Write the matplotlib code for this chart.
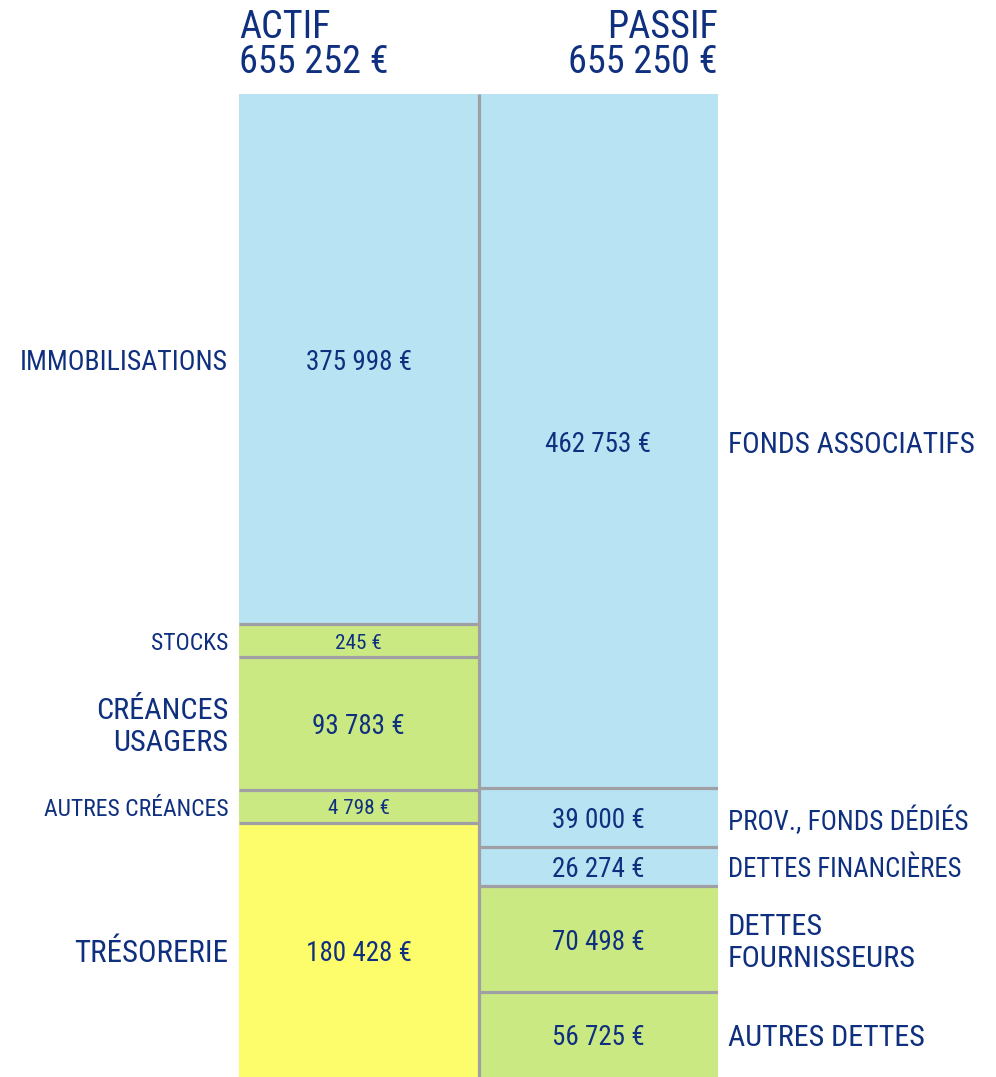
import matplotlib
matplotlib.use("Agg")
import matplotlib.pyplot as plt
from matplotlib.transforms import offset_copy

# ---- data ----
actif_labels = ["IMMOBILISATIONS", "STOCKS", "CRÉANCES\nUSAGERS", "AUTRES CRÉANCES", "TRÉSORERIE"]
actif_values = [375998, 245, 93783, 4798, 180428]
actif_kinds = ["fixed", "current", "current", "current", "cash"]

passif_labels = ["FONDS ASSOCIATIFS", "PROV., FONDS DÉDIÉS", "DETTES FINANCIÈRES", "DETTES\nFOURNISSEURS", "AUTRES DETTES"]
passif_values = [462753, 39000, 26274, 70498, 56725]
passif_kinds = ["fixed", "fixed", "fixed", "current", "current"]

total_actif = 655252
total_passif = 655250
min_display = 23400  # minimum display size for tiny items

# ---- style ----
plt.rcParams['font.family'] = ["Roboto Condensed", "DejaVu Sans"]
colors = {"fixed": "#b8e3f2", "current": "#cbe983", "cash": "#fdfd6b"}
txt = "#0f2f7f"
sep = "#a0a0a4"
actif_label_fs = [20, 17, 21.8, 17, 22.3]
passif_label_fs = [21.2, 19.5, 19.3, 21.9, 21.6]

def fmt(v):
    return f"{v:,}".replace(",", " ") + " €"

W, H = 996, 1077
fig = plt.figure(figsize=(W / 100, H / 100), dpi=100)
left, right, top = 239, 718, 94
ax = fig.add_axes([left / W, 0, (right - left) / W, (H - top) / H])
ax.set_xlim(0, 2)
ax.set_ylim(1, 0)
ax.axis("off")

def draw_column(x0, labels, values, kinds, lab_fs, side):
    disp = [max(v, min_display) for v in values]
    tot = sum(disp)
    y = 0.0
    for i, (lab, v, d, k, lfs) in enumerate(zip(labels, values, disp, kinds, lab_fs)):
        h = d / tot
        ax.bar(x0, h, bottom=y, width=1, align="edge", color=colors[k], linewidth=0)
        small = v < min_display
        vfs = 15.3 if small else 19.5
        cy = y + h / 2
        tv = offset_copy(ax.transData, fig=fig, y=-0.13 * vfs, units="points")
        ax.text(x0 + 0.5, cy, fmt(v), ha="center", va="center", fontsize=vfs, color=txt,
                transform=tv)
        tl = offset_copy(ax.transData, fig=fig, y=-0.13 * lfs, units="points")
        if side == "left":
            ax.text(-0.045, cy, lab, ha="right", va="center", fontsize=lfs, color=txt,
                    linespacing=1.17, multialignment="right", transform=tl)
        else:
            ax.text(2.042, cy, lab, ha="left", va="center", fontsize=lfs, color=txt,
                    linespacing=1.14, multialignment="left", transform=tl)
        if i > 0:
            ax.hlines(y, x0, x0 + 1, color=sep, linewidth=2.3, zorder=3)
        y += h

draw_column(0, actif_labels, actif_values, actif_kinds, actif_label_fs, "left")
draw_column(1, passif_labels, passif_values, passif_kinds, passif_label_fs, "right")
ax.vlines(1, 0, 1, color=sep, linewidth=2.3, zorder=4)

fig.text(left / W, 1 - 9 / H, "ACTIF\n" + fmt(total_actif), ha="left", va="top",
         fontsize=27.5, color=txt, linespacing=0.93)
fig.text(right / W, 1 - 9 / H, "PASSIF\n" + fmt(total_passif), ha="right", va="top",
         fontsize=27.5, color=txt, linespacing=0.93, multialignment="right")

fig.savefig("out.png", dpi=100)
